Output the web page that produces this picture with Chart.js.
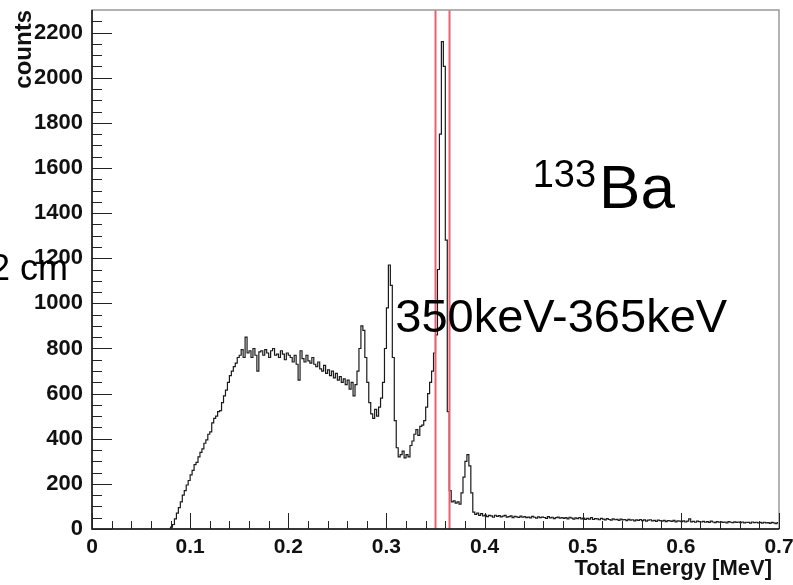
<!DOCTYPE html>
<html>
<head>
<meta charset="utf-8">
<script src="https://cdn.jsdelivr.net/npm/chart.js@4.4.0/dist/chart.umd.min.js"></script>
<style>
  html, body { margin: 0; padding: 0; background: #fff; }
  #wrap { position: relative; width: 793px; height: 585px; }
</style>
</head>
<body>
<div id="wrap"><canvas id="spectrum"></canvas></div>
<script>
// 133Ba spectrum, 2 keV bins (MeV on x)
const binWidth = 0.002;

// rise of the Compton edge, bins from 0.078 MeV
const riseStart = 0.078;
const riseCounts = [0, 8, 20, 45, 70, 95, 120, 150, 170, 195, 215, 240, 260, 285, 295, 320, 340, 355,
    380, 395, 420, 430, 470, 490, 500, 520, 525, 560, 590, 615, 650, 680, 700, 720, 735, 760];

// broad plateau, bins from 0.150 MeV
const plateauStart = 0.150;
const plateauCounts = [770, 795, 760, 850, 780, 790, 760, 800, 770, 700, 785, 790, 770, 795, 780, 760,
    790, 800, 770, 775, 760, 790, 775, 750, 780, 770, 760, 740, 770, 730, 660, 790, 755, 740, 770, 745,
    735, 760, 730, 720, 740, 710, 700, 725, 690, 705, 680, 700, 670, 690, 660, 675, 650, 665, 640, 660,
    620, 650, 590, 640];

// photopeaks 276, 303, 356 and 384 keV, bins from 0.270 MeV
const peaksStart = 0.270;
const peaksCounts = [700, 800, 900, 880, 760, 650, 560, 510, 490, 530, 500, 540, 580, 650, 800, 980,
    1170, 1080, 760, 480, 360, 320, 330, 345, 315, 330, 320, 370, 390, 420, 440, 415, 455, 460, 480,
    540, 600, 650, 700, 780, 860, 1150, 1750, 2160, 2050, 1280, 520, 170, 120, 125, 115, 120, 110, 160,
    230, 300, 330, 280, 160, 75, 65, 70, 60, 68, 58];

// flat tail, bins from 0.400 MeV
const tailStart = 0.400;
const tailCounts = [62, 55, 60, 58, 52, 61, 56, 59, 54, 57,
    60, 53, 55, 58, 50, 56, 54, 51, 57, 52,
    55, 50, 53, 49, 56, 52, 48, 54, 50, 53,
    51, 47, 55, 49, 52, 46, 50, 53, 48, 51,
    47, 50, 45, 52, 48, 44, 49, 46, 51, 45,
    48, 43, 47, 44, 50, 42, 46, 45, 41, 47,
    44, 40, 46, 42, 39, 45, 41, 43, 38, 44,
    40, 42, 37, 43, 39, 41, 36, 40, 38, 42,
    37, 40, 35, 39, 41, 36, 38, 34, 39, 37,
    35, 38, 33, 37, 36, 34, 38, 32, 36, 35,
    33, 36, 31, 35, 45, 32, 34, 30, 35, 33,
    31, 34, 30, 33, 29, 35, 31, 28, 33, 30,
    32, 29, 31, 27, 33, 30, 28, 32, 29, 31,
    28, 31, 27, 30, 29, 26, 31, 28, 30, 27,
    29, 26, 30, 27, 28, 25, 29, 27, 24, 28];

// selection window 350-365 keV
const windowLines = [0.350, 0.365];

const xTicks = [0, 0.1, 0.2, 0.3, 0.4, 0.5, 0.6, 0.7];
const xTickLabels = ['0', '0.1', '0.2', '0.3', '0.4', '0.5', '0.6', '0.7'];
const yTicks = [0, 200, 400, 600, 800, 1000, 1200, 1400, 1600, 1800, 2000, 2200];

const FONT = '"Liberation Sans", Arial, Helvetica, sans-serif';

function toBins(start, values) {
    return values.map((v, i) => ({ x: start + (i + 0.5) * binWidth, y: v }));
}

const histo = [
    ...toBins(riseStart, riseCounts),
    ...toBins(plateauStart, plateauCounts),
    ...toBins(peaksStart, peaksCounts),
    ...toBins(tailStart, tailCounts)
];

// drop the label overflow padding so the frame sits where ROOT put it
function noPad(s) {
    s.paddingTop = 0;
    s.paddingBottom = 0;
    s.paddingLeft = 0;
    s.paddingRight = 0;
}

// ROOT-like frame, inward ticks, cut lines and labels
const rootDecor = {
    id: 'rootDecor',
    afterDatasetsDraw(chart) {
        const { ctx, chartArea: a, scales: { x, y } } = chart;
        ctx.save();
        // red window lines
        ctx.strokeStyle = 'rgb(234, 96, 112)';
        ctx.lineWidth = 2;
        windowLines.forEach(e => {
            const px = Math.round(x.getPixelForValue(e)) - 0.5;
            ctx.beginPath();
            ctx.moveTo(px, a.top);
            ctx.lineTo(px, a.bottom);
            ctx.stroke();
        });

        // frame
        ctx.strokeStyle = '#999';
        ctx.lineWidth = 1.5;
        ctx.strokeRect(a.left, a.top, a.right - a.left, a.bottom - a.top);
        ctx.strokeStyle = '#111';
        ctx.lineWidth = 1.5;
        ctx.beginPath();
        ctx.moveTo(a.left, a.top);
        ctx.lineTo(a.left, a.bottom);
        ctx.lineTo(a.right, a.bottom);
        ctx.stroke();

        // ticks pointing inward
        ctx.lineWidth = 1;
        ctx.strokeStyle = '#222';
        ctx.beginPath();
        for (let k = 0; k <= 35; k++) {
            const px = Math.round(x.getPixelForValue(k * 0.02)) + 0.5;
            const len = k % 5 === 0 ? 16 : 8;
            ctx.moveTo(px, a.bottom);
            ctx.lineTo(px, a.bottom - len);
        }
        for (let k = 0; k <= 45; k++) {
            const py = Math.round(y.getPixelForValue(k * 50)) + 0.5;
            const len = k % 4 === 0 ? 20 : 10;
            ctx.moveTo(a.left, py);
            ctx.lineTo(a.left + len, py);
        }
        ctx.stroke();

        // axis title, right aligned a bit inside the frame
        ctx.fillStyle = '#111';
        ctx.font = 'bold 22px ' + FONT;
        ctx.textAlign = 'right';
        ctx.textBaseline = 'alphabetic';
        ctx.fillText('Total Energy [MeV]', a.right - 7, 575);

        // text annotations
        ctx.fillStyle = '#000';
        ctx.textAlign = 'left';

        let bx = x.getPixelForValue(0.449);
        const by = y.getPixelForValue(1421);
        ctx.font = '38px ' + FONT;
        ctx.fillText('133', bx, by - 21);
        bx += ctx.measureText('133').width + 3;
        ctx.font = '62px ' + FONT;
        ctx.fillText('Ba', bx, by);

        ctx.font = '47px ' + FONT;
        ctx.fillText('350keV-365keV', x.getPixelForValue(0.309), y.getPixelForValue(872));

        ctx.font = '36px ' + FONT;
        ctx.textAlign = 'right';
        ctx.fillText('2 cm', x.getPixelForValue(-0.0245), y.getPixelForValue(1102));
        ctx.restore();
    }
};

const ctx = document.getElementById('spectrum').getContext('2d');
new Chart(ctx, {
    type: 'line',
    data: {
        datasets: [{
            label: 'Total Energy',
            data: histo,
            stepped: 'middle',
            borderColor: '#1a1a1a',
            borderWidth: 1.2,
            pointRadius: 0,
            fill: false
        }]
    },
    options: {
        responsive: true,
        maintainAspectRatio: false,
        animation: false,
        devicePixelRatio: 1,
        layout: { padding: { top: 10, right: 14, left: 0, bottom: 0 } },
        plugins: {
            legend: { display: false },
            tooltip: { enabled: false }
        },
        scales: {
            x: {
                type: 'linear',
                min: 0,
                max: 0.7,
                afterFit: s => { s.height = 56; noPad(s); },
                afterBuildTicks: s => { s.ticks = xTicks.map(v => ({ value: v })); },
                grid: { display: false, drawTicks: false },
                border: { display: false },
                ticks: {
                    autoSkip: false,
                    maxRotation: 0,
                    padding: 6,
                    color: '#111',
                    font: { family: FONT, size: 21, weight: 'bold' },
                    callback: (v) => xTickLabels[xTicks.findIndex(t => Math.abs(t - v) < 1e-6)]
                }
            },
            y: {
                min: 0,
                max: 2300,
                afterFit: s => { s.width = 92; noPad(s); },
                afterBuildTicks: s => { s.ticks = yTicks.map(v => ({ value: v })); },
                grid: { display: false, drawTicks: false },
                border: { display: false },
                ticks: {
                    padding: 9,
                    color: '#111',
                    font: { family: FONT, size: 22, weight: 'bold' },
                    callback: (v) => String(v)
                },
                title: {
                    display: true,
                    text: 'counts',
                    align: 'end',
                    color: '#111',
                    font: { family: FONT, size: 24, weight: 'bold' },
                    padding: { top: 10, bottom: 0 }
                }
            }
        }
    },
    plugins: [rootDecor]
});
</script>
</body>
</html>
